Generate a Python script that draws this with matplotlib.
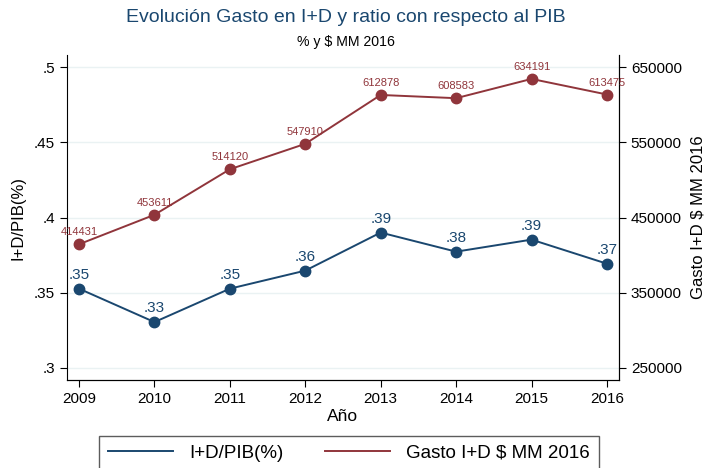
import matplotlib
matplotlib.use("Agg")
import matplotlib.pyplot as plt
import numpy as np

plt.rcParams['font.family'] = ['Liberation Sans', 'DejaVu Sans']

anios = [2009, 2010, 2011, 2012, 2013, 2014, 2015, 2016]
ratio_pib = [0.3527, 0.3305, 0.3527, 0.3647, 0.3900, 0.3773, 0.3853, 0.3693]
ratio_lbl = ['.35', '.33', '.35', '.36', '.39', '.38', '.39', '.37']
gasto = [414431, 453611, 514120, 547910, 612878, 608583, 634191, 613475]

azul = '#1a476f'
rojo = '#90353b'

fig = plt.figure(figsize=(7.05, 4.68), dpi=100)
ax = fig.add_axes([0.095, 0.188, 0.783, 0.6945])
ax2 = ax.twinx()

ax.plot(anios, ratio_pib, color=azul, lw=1.4, marker='o', ms=7.5, label='I+D/PIB(%)', zorder=3)
for x, y, t in zip(anios, ratio_pib, ratio_lbl):
    ax.annotate(t, (x, y), xytext=(0, 5), textcoords='offset points',
                ha='center', va='bottom', color=azul, fontsize=11)

ax2.plot(anios, gasto, color=rojo, lw=1.4, marker='o', ms=7.5, label='Gasto I+D $ MM 2016', zorder=3)
for x, y in zip(anios, gasto):
    ax2.annotate(str(y), (x, y), xytext=(0, 5), textcoords='offset points',
                 ha='center', va='bottom', color=rojo, fontsize=8)

ax.set_xlim(2008.84, 2016.16)
ax.set_ylim(0.292, 0.508)
ax2.set_ylim(234000, 666000)

ax.set_xticks(anios)
ax.set_yticks([0.3, 0.35, 0.4, 0.45, 0.5])
ax.set_yticklabels(['.3', '.35', '.4', '.45', '.5'])
ax2.set_yticks([250000, 350000, 450000, 550000, 650000])
ax2.set_yticklabels(['250000', '350000', '450000', '550000', '650000'])

ax.grid(axis='y', color='#eaf2f3', lw=1)
ax.set_axisbelow(True)

for a in (ax, ax2):
    a.spines['top'].set_visible(False)
    a.tick_params(labelsize=11, length=5, color='black')
ax2.spines['left'].set_visible(False)
ax.spines['right'].set_visible(True)

ax.set_ylabel('I+D/PIB(%)', fontsize=12, labelpad=6)
ax2.set_ylabel('Gasto I+D $ MM 2016', fontsize=12, labelpad=6)
ax.set_xlabel('Año', fontsize=12.5, labelpad=2)

fig.text(0.49, 0.962, 'Evolución Gasto en I+D y ratio con respecto al PIB',
         ha='center', va='center', fontsize=14, color=azul)
fig.text(0.49, 0.91, '% y $ MM 2016', ha='center', va='center', fontsize=10.2)

h1, l1 = ax.get_legend_handles_labels()
h2, l2 = ax2.get_legend_handles_labels()
handles = [plt.Line2D([], [], color=azul, lw=1.4), plt.Line2D([], [], color=rojo, lw=1.4)]
leg = fig.legend(handles, l1 + l2, loc='upper center', bbox_to_anchor=(0.495, 0.068),
                 ncol=2, frameon=True, fancybox=False, edgecolor='#333333',
                 fontsize=13.5, handlelength=3.5, handletextpad=0.85,
                 columnspacing=2.2, borderpad=0.45, borderaxespad=0)
leg.get_frame().set_linewidth(1)

fig.savefig('out.png', dpi=100)
